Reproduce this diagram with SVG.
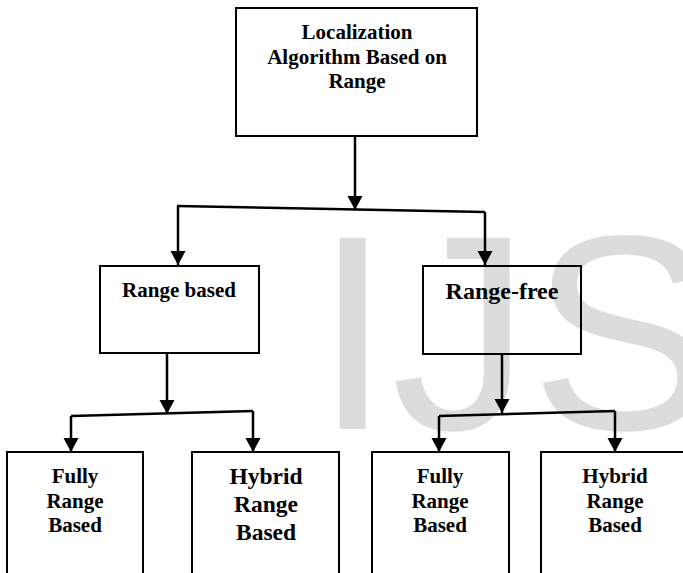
<svg xmlns="http://www.w3.org/2000/svg" width="683" height="573" viewBox="0 0 683 573">
<style>
.box{fill:none;stroke:#000;stroke-width:2}
.t{font-family:"Liberation Serif","Times New Roman",serif;font-weight:bold;fill:#000;text-anchor:middle}
.c{fill:none;stroke:#000;stroke-width:2.5}
.wm{font-family:"Liberation Sans",Arial,sans-serif;fill:#dcdcdc}
</style>
<defs>
<marker id="ah" markerUnits="userSpaceOnUse" markerWidth="16" markerHeight="16" refX="14" refY="7.5" orient="auto">
<path d="M0,0 L14,7.5 L0,15 z" fill="#000"/>
</marker>
</defs>
<rect width="683" height="573" fill="#fff"/>
<text class="wm" x="314" y="429" font-size="278">IJS</text>
<g id="connectors">
<path class="c" d="M355,136 V210" marker-end="url(#ah)"/>
<path class="c" d="M177,206 L485,212"/>
<path class="c" d="M178,206 V265" marker-end="url(#ah)"/>
<path class="c" d="M485,212 V265" marker-end="url(#ah)"/>
<path class="c" d="M167,353 V414" marker-end="url(#ah)"/>
<path class="c" d="M71,416 L253,411"/>
<path class="c" d="M71,416 V452" marker-end="url(#ah)"/>
<path class="c" d="M253,411 V452" marker-end="url(#ah)"/>
<path class="c" d="M502,354 V413" marker-end="url(#ah)"/>
<path class="c" d="M439,416 L615,411"/>
<path class="c" d="M439,416 V452" marker-end="url(#ah)"/>
<path class="c" d="M615,411 V452" marker-end="url(#ah)"/>
</g>
<g id="root">
<rect class="box" x="236" y="8" width="241" height="128"/>
<text class="t" font-size="21"><tspan x="357" y="39">Localization</tspan><tspan x="357" y="64">Algorithm Based on</tspan><tspan x="357" y="88">Range</tspan></text>
</g>
<g id="range-based">
<rect class="box" x="100" y="266" width="159" height="87"/>
<text class="t" font-size="21" x="179" y="297">Range based</text>
</g>
<g id="range-free">
<rect class="box" x="423" y="266" width="158" height="88"/>
<text class="t" font-size="24" x="502" y="299">Range-free</text>
</g>
<g id="fully-left">
<path class="box" d="M7,580 V452 H143 V580"/>
<text class="t" font-size="21"><tspan x="75" y="483">Fully</tspan><tspan x="75" y="508">Range</tspan><tspan x="75" y="532">Based</tspan></text>
</g>
<g id="hybrid-left">
<path class="box" d="M192,580 V452 H339 V580"/>
<text class="t" font-size="23.5"><tspan x="266" y="484">Hybrid</tspan><tspan x="266" y="512">Range</tspan><tspan x="266" y="540">Based</tspan></text>
</g>
<g id="fully-right">
<path class="box" d="M372,580 V452 H509 V580"/>
<text class="t" font-size="21"><tspan x="440" y="483">Fully</tspan><tspan x="440" y="508">Range</tspan><tspan x="440" y="532">Based</tspan></text>
</g>
<g id="hybrid-right">
<path class="box" d="M541,580 V452 H690"/>
<text class="t" font-size="21"><tspan x="615" y="483">Hybrid</tspan><tspan x="615" y="508">Range</tspan><tspan x="615" y="532">Based</tspan></text>
</g>
</svg>
